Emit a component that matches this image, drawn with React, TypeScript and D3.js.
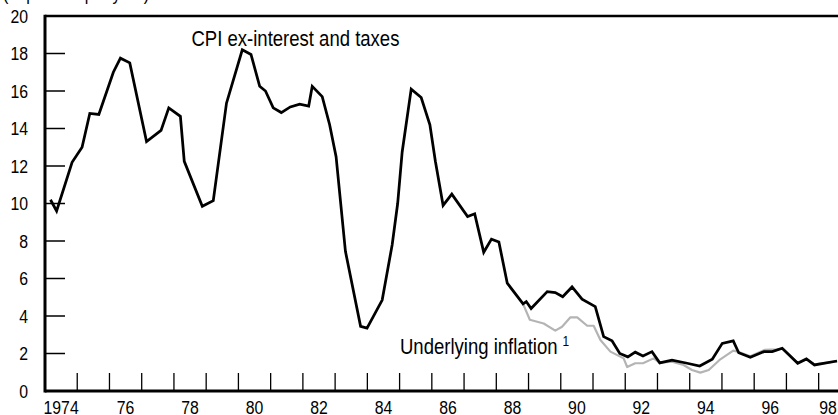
import React from 'react';
import * as d3 from 'd3';

// CPI excluding interest and taxes (decimal year, percent)
const cpiYears = [
  1974.17, 1974.36, 1974.84, 1975.15, 1975.39, 1975.67, 1976.12, 1976.34, 1976.63,
  1977.15, 1977.6, 1977.84, 1978.2, 1978.32, 1978.88, 1979.22, 1979.63, 1980.12,
  1980.39, 1980.66, 1980.84, 1981.08, 1981.33, 1981.61, 1981.9, 1982.18, 1982.29,
  1982.6, 1982.83, 1983.03, 1983.32, 1983.79, 1983.99, 1984.46, 1984.77, 1984.94,
  1985.08, 1985.36, 1985.67, 1985.94, 1986.11, 1986.35, 1986.62, 1987.11, 1987.33,
  1987.61, 1987.85, 1988.08, 1988.34, 1988.83, 1988.93, 1989.08, 1989.58, 1989.83,
  1990.06, 1990.35, 1990.66, 1991.07, 1991.33, 1991.59, 1991.83, 1992.08, 1992.31,
  1992.55, 1992.83, 1993.07, 1993.45, 1993.92, 1994.31, 1994.7, 1995.01, 1995.35,
  1995.52, 1995.88, 1996.3, 1996.56, 1996.87, 1997.35, 1997.62, 1997.87, 1998.57
];
const cpiValues = [
  10.2, 9.6, 12.2, 13.0, 14.8, 14.75, 17.0, 17.75, 17.5,
  13.3, 13.9, 15.1, 14.65, 12.25, 9.85, 10.15, 15.35, 18.2,
  17.95, 16.25, 16.0, 15.1, 14.85, 15.15, 15.3, 15.2, 16.25,
  15.7, 14.2, 12.5, 7.45, 3.45, 3.35, 4.85, 7.8, 10.0,
  12.75, 16.1, 15.65, 14.2, 12.25, 9.9, 10.5, 9.3, 9.45,
  7.4, 8.1, 7.95, 5.75, 4.65, 4.77, 4.4, 5.3, 5.25,
  5.03, 5.55, 4.9, 4.5, 2.9, 2.68, 2.0, 1.82, 2.07,
  1.87, 2.1, 1.5, 1.65, 1.48, 1.33, 1.69, 2.54, 2.67,
  2.04, 1.8, 2.1, 2.1, 2.28, 1.48, 1.71, 1.39, 1.6
];

// Underlying inflation
const underlyingYears = [
  1988.83, 1989.04, 1989.47, 1989.83, 1990.04, 1990.3, 1990.51, 1990.82, 1991.02,
  1991.23, 1991.54, 1991.95, 1992.06, 1992.31, 1992.55, 1992.88, 1993.07, 1993.45,
  1993.81, 1994.07, 1994.33, 1994.59, 1994.95, 1995.35, 1995.52, 1995.88, 1996.32,
  1996.71, 1996.87, 1997.35, 1997.62, 1997.87, 1998.57
];
const underlyingValues = [
  4.65, 3.8, 3.6, 3.22, 3.43, 3.93, 3.93, 3.48, 3.48,
  2.72, 2.1, 1.74, 1.28, 1.48, 1.48, 1.74, 1.51, 1.56,
  1.39, 1.12, 0.98, 1.12, 1.69, 2.15, 2.08, 1.85, 2.19,
  2.22, 2.26, 1.5, 1.7, 1.42, 1.58
];

const yTicks = [0, 2, 4, 6, 8, 10, 12, 14, 16, 18, 20];
const xTickYears = d3.range(1975, 1999);
const xLabelYears = [1974, 1976, 1978, 1980, 1982, 1984, 1986, 1988, 1990, 1992, 1994, 1996, 1998];

const W = 838;
const H = 415;
const FONT = '"Liberation Sans", Arial, sans-serif';
const SQUEEZE = 0.85; // the original type is a condensed grotesque

// text drawn with a horizontal squeeze around its anchor point
const Narrow = (props: {
  x: number;
  y: number;
  size: number;
  anchor?: string;
  dy?: string;
  children: React.ReactNode;
}) => (
  <text
    transform={`translate(${props.x},${props.y}) scale(${SQUEEZE},1)`}
    fontSize={props.size}
    textAnchor={props.anchor || 'start'}
    dy={props.dy}
    fill="#000"
  >
    {props.children}
  </text>
);

export default function App() {
  const x = d3.scaleLinear().domain([1974, 1998.6]).range([45, 838]);
  const y = d3.scaleLinear().domain([0, 20]).range([391, 16]);

  const line = d3
    .line<[number, number]>()
    .x((d) => x(d[0]))
    .y((d) => y(d[1]));

  const cpi = cpiYears.map((t, i) => [t, cpiValues[i]] as [number, number]);
  const und = underlyingYears.map((t, i) => [t, underlyingValues[i]] as [number, number]);

  const [x0, x1] = x.range();
  const [y0, y1] = y.range();

  return (
    <svg
      width={W}
      height={H}
      style={{ position: 'absolute', left: 0, top: 0, background: '#fff' }}
      fontFamily={FONT}
    >
      <Narrow x={3} y={0} size={19}>
        (In percent per year)
      </Narrow>

      {/* frame */}
      <line x1={x0} x2={x1} y1={y1} y2={y1} stroke="#000" strokeWidth={2.5} />
      <line x1={x0} x2={x1} y1={y0} y2={y0} stroke="#000" strokeWidth={3} />
      <line x1={x0} x2={x0} y1={y1 - 1.25} y2={y0 + 1.5} stroke="#000" strokeWidth={3} />

      {/* y axis */}
      {yTicks.map((v) => (
        <g key={v}>
          {v > 0 && v < 20 && (
            <line x1={x0} x2={x0 + 20} y1={y(v)} y2={y(v)} stroke="#000" strokeWidth={1.5} />
          )}
          <Narrow x={28} y={y(v)} size={18.6} anchor="end" dy="0.36em">
            {v}
          </Narrow>
        </g>
      ))}

      {/* x axis */}
      {xTickYears.map((t) => (
        <line key={t} x1={x(t)} x2={x(t)} y1={y0 - 18} y2={y0} stroke="#000" strokeWidth={1.3} />
      ))}
      {xLabelYears.map((t) => (
        <Narrow key={t} x={Math.min(x(t + 0.5), W - 10)} y={414} size={18.6} anchor="middle">
          {t === 1974 ? '1974' : String(t).slice(2)}
        </Narrow>
      ))}

      {/* series */}
      <path d={line(und) || ''} fill="none" stroke="#b4b4b4" strokeWidth={2.2} strokeLinejoin="round" />
      <path d={line(cpi) || ''} fill="none" stroke="#000" strokeWidth={2.75} strokeLinejoin="miter" />

      {/* labels */}
      <Narrow x={191.5} y={46} size={21.8}>
        CPI ex-interest and taxes
      </Narrow>
      <Narrow x={400} y={354} size={21.8}>
        Underlying inflation
        <tspan fontSize={14} dx={6} dy={-8}>1</tspan>
      </Narrow>
    </svg>
  );
}
